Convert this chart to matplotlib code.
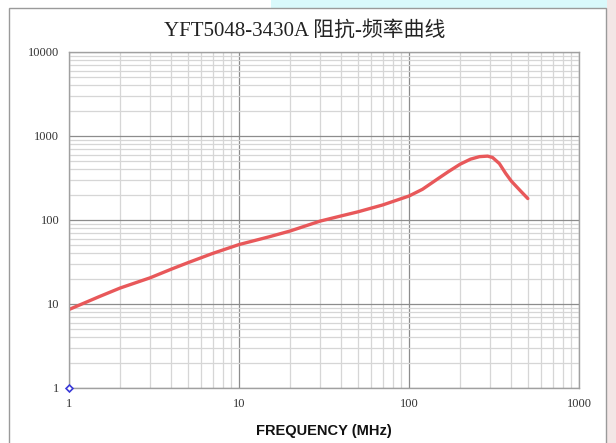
import numpy as np
import matplotlib.pyplot as plt
from matplotlib.patches import Rectangle
from matplotlib.ticker import FixedLocator, NullFormatter

# impedance vs frequency readings
freq_mhz = [1, 1.5, 2, 3, 4, 5, 7, 10, 15, 20, 30, 40, 50, 70, 100, 120, 150, 170, 200,
            230, 260, 290, 310, 340, 370, 400, 450, 500]
impedance = [8.6, 12.2, 15.5, 20.5, 26, 31, 40, 51, 63, 74, 97, 112, 125, 151, 193, 232, 316,
             375, 462, 530, 568, 576, 555, 470, 360, 290, 225, 180]

x_ticks = [1, 10, 100, 1000]
x_labels = ["1", "10", "100", "1000"]
y_ticks = [1, 10, 100, 1000, 10000]
y_labels = ["1", "10", "100", "1000", "10000"]

title = "YFT5048-3430A 阻抗-频率曲线"
xlabel = "FREQUENCY (MHz)"

serif = ["Liberation Serif", "Noto Sans CJK SC"]

fig = plt.figure(figsize=(6.16, 4.43), dpi=100)
fig.patch.set_facecolor("white")

# background strips around the white panel
fig.patches.append(Rectangle((0.44, 1 - 8 / 443), 0.56, 8 / 443, transform=fig.transFigure,
                             facecolor="#d9f9fb", edgecolor="none", zorder=0))
fig.patches.append(Rectangle((607 / 616, 0), 9 / 616, 1, transform=fig.transFigure,
                             facecolor="#f3e6e6", edgecolor="none", zorder=0))
fig.patches.append(Rectangle((9 / 616, -0.01), 597 / 616, 1 - 8 / 443 + 0.01, transform=fig.transFigure,
                             facecolor="white", edgecolor="#9a9a9a", linewidth=1.0, zorder=1))

ax = fig.add_axes([69 / 616, 1 - 388 / 443, 510 / 616, 336 / 443])
ax.set_zorder(2)
ax.set_xscale("log")
ax.set_yscale("log")
ax.set_xlim(1, 1000)
ax.set_ylim(1, 10000)

minor = [m * 10 ** e for e in range(0, 4) for m in range(2, 10)]
ax.xaxis.set_major_locator(FixedLocator(x_ticks))
ax.xaxis.set_minor_locator(FixedLocator(minor))
ax.yaxis.set_major_locator(FixedLocator(y_ticks))
ax.yaxis.set_minor_locator(FixedLocator(minor))
ax.xaxis.set_minor_formatter(NullFormatter())
ax.yaxis.set_minor_formatter(NullFormatter())
ax.set_xticklabels(x_labels, family=serif, fontsize=9, color="#333333")
ax.set_yticklabels(y_labels, family=serif, fontsize=9, color="#333333")
ax.tick_params(which="both", length=0, pad=7)

ax.grid(which="major", color="#8c8c8c", linewidth=0.9)
ax.grid(which="minor", color="#d6d6d6", linewidth=0.9)
for s in ax.spines.values():
    s.set_color("#a0a0a0")
    s.set_linewidth(1.0)

ax.plot(freq_mhz, impedance, color="#e8585a", linewidth=2.4,
        solid_capstyle="round", solid_joinstyle="round")
ax.plot([1], [1], marker="D", markersize=3.5, markerfacecolor="white",
        markeredgecolor="#3a3ad8", markeredgewidth=1.2, clip_on=False, zorder=5)

fig.text(0.494, 1 - 31 / 443, title, ha="center", va="center", family=serif,
         fontsize=15, color="#222222")
ax.set_xlabel(xlabel, family="Liberation Sans", fontweight="bold", fontsize=10.5,
              color="#111111", labelpad=10)

fig.savefig("out.png", dpi=100)
